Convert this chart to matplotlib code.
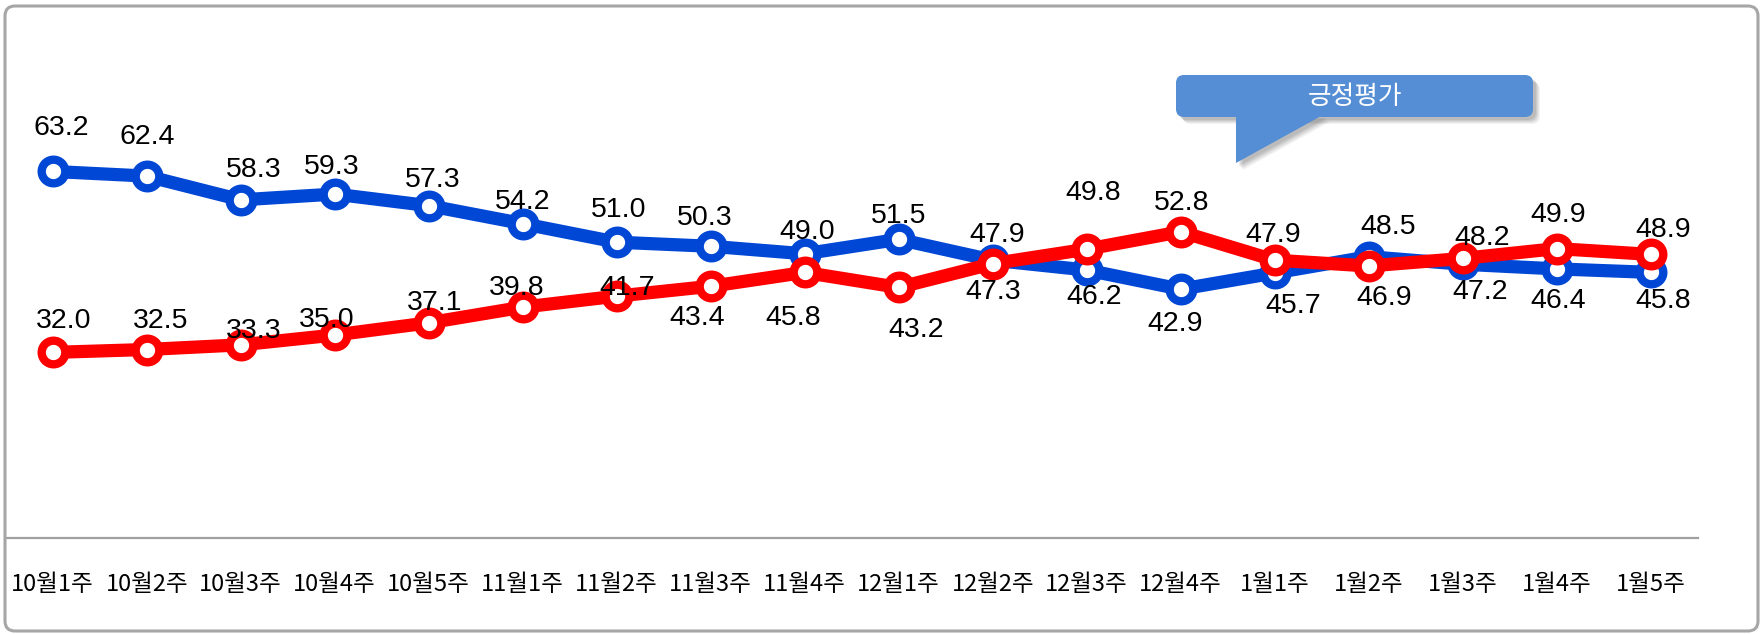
import matplotlib
matplotlib.use("Agg")
import matplotlib.pyplot as plt
from matplotlib.patches import FancyBboxPatch, Polygon

# ---------------- data ----------------
weeks = ["10월1주", "10월2주", "10월3주", "10월4주", "10월5주", "11월1주", "11월2주",
         "11월3주", "11월4주", "12월1주", "12월2주", "12월3주", "12월4주", "1월1주",
         "1월2주", "1월3주", "1월4주", "1월5주"]
blue_vals = [63.2, 62.4, 58.3, 59.3, 57.3, 54.2, 51.0, 50.3, 49.0, 51.5, 47.9, 46.2,
             42.9, 45.7, 48.5, 47.2, 46.4, 45.8]
red_vals = [32.0, 32.5, 33.3, 35.0, 37.1, 39.8, 41.7, 43.4, 45.8, 43.2, 47.3, 49.8,
            52.8, 47.9, 46.9, 48.2, 49.9, 48.9]
callout_text = "긍정평가"

# label offsets in pixels (dx, dy up) – layout only
blue_off = [(9, 46), (1, 42), (13, 33), (-3, 30), (4, 29), (0, 25), (2, 35), (-6, 31),
            (2, 25), (0, 26), (4, 28), (7, -24), (-6, -32), (18, -30), (19, 33),
            (17, -25), (1, -29), (12, -26)]
red_off = [(11, 34), (14, 31), (13, 17), (-8, 18), (6, 23), (-6, 22), (10, 11),
           (-14, -29), (-12, -43), (17, -40), (0, -25), (6, 59), (1, 32), (-2, 28),
           (15, -29), (19, 23), (1, 37), (12, 27)]

W, H = 1762, 634
BLUE = "#0047D6"
RED = "#FF0000"

fig = plt.figure(figsize=(W / 100, H / 100), dpi=100, facecolor="white")

# main axes
ax_left, ax_right = 5.7, 1697.7
ax_top, ax_bot = 74.0, 538.0
ax = fig.add_axes([ax_left / W, 1 - ax_bot / H, (ax_right - ax_left) / W, (ax_bot - ax_top) / H])
ax.set_facecolor("none")
x = list(range(len(weeks)))

lw = 9.5
ms = 17
mew = 6.0
ax.plot(x, blue_vals, color=BLUE, lw=lw, marker="o", ms=ms, mew=mew,
        mfc="white", mec=BLUE, solid_joinstyle="round", zorder=3)
ax.plot(x, red_vals, color=RED, lw=lw, marker="o", ms=ms, mew=mew,
        mfc="white", mec=RED, solid_joinstyle="round", zorder=4)

lab_font = dict(family="Liberation Sans", fontsize=20.5, color="black")
for i, v in enumerate(blue_vals):
    dx, dy = blue_off[i]
    ax.annotate(f"{v:.1f}", (i, v), xytext=(dx, dy - 3), textcoords="offset pixels",
                ha="center", va="center", zorder=6, **lab_font)
for i, v in enumerate(red_vals):
    dx, dy = red_off[i]
    ax.annotate(f"{v:.1f}", (i, v), xytext=(dx, dy - 3), textcoords="offset pixels",
                ha="center", va="center", zorder=6, **lab_font)

ax.set_xlim(-0.5, len(weeks) - 0.5)
ax.set_ylim(0, 80)
ax.set_xticks(x)
ax.set_xticklabels(weeks, fontsize=17, family=["Noto Sans CJK KR", "DejaVu Sans"])
ax.tick_params(axis="x", length=0, pad=25)
ax.set_yticks([])
for s in ["top", "left", "right"]:
    ax.spines[s].set_visible(False)
ax.spines["bottom"].set_color("#A0A0A0")
ax.spines["bottom"].set_linewidth(1.6)

# overlay in pixel coordinates
ov = fig.add_axes([0, 0, 1, 1], zorder=10)
ov.set_xlim(0, W)
ov.set_ylim(H, 0)
ov.axis("off")
ov.patch.set_alpha(0)

# outer rounded frame
frame = FancyBboxPatch((5, 6), 1753, 625, boxstyle="round,pad=0,rounding_size=10",
                       fc="none", ec="#A6A6A6", lw=2.2)
ov.add_patch(frame)

# callout with soft shadow
bx0, by0, bx1, by1 = 1176, 75, 1533, 117
tail = [(1236, by1 - 2), (1236, 163), (1323, by1 - 2)]
for k, a in [(7, 0.06), (6, 0.07), (5, 0.08), (4, 0.09), (3, 0.1)]:
    ov.add_patch(FancyBboxPatch((bx0 + k, by0 + k), bx1 - bx0, by1 - by0,
                                boxstyle="round,pad=0,rounding_size=8",
                                fc="#404040", ec="none", alpha=a))
    ov.add_patch(Polygon([(px + k, py + k) for px, py in tail], closed=True,
                         fc="#404040", ec="none", alpha=a))
ov.add_patch(FancyBboxPatch((bx0, by0), bx1 - bx0, by1 - by0,
                            boxstyle="round,pad=0,rounding_size=8",
                            fc="#558ED5", ec="none"))
ov.add_patch(Polygon(tail, closed=True, fc="#558ED5", ec="none"))
ov.text(1355, 97, callout_text, color="white", fontsize=18.5, ha="center", va="center",
        family=["Noto Sans CJK KR", "DejaVu Sans"])

fig.savefig("out.png", dpi=100, facecolor="white")
